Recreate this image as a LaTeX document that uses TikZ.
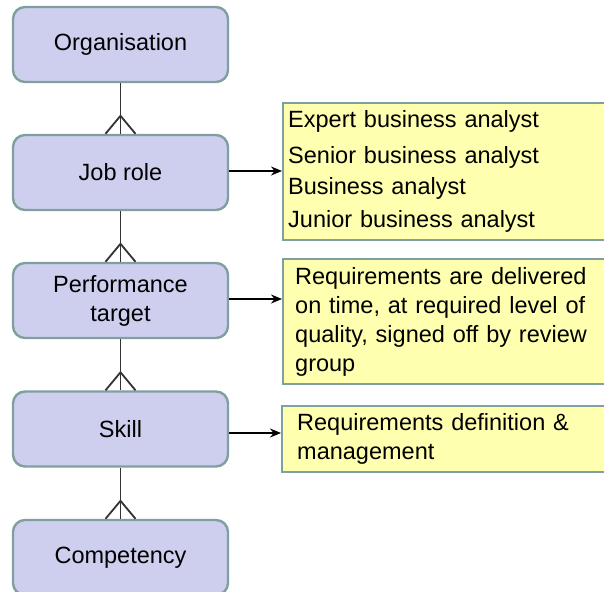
\documentclass[tikz,border=0pt]{standalone}
\usepackage{fontspec}
\setmainfont{Liberation Sans}
\usetikzlibrary{calc,arrows.meta}
\definecolor{lav}{RGB}{206,206,238}
\definecolor{edge}{RGB}{128,160,160}
\definecolor{yel}{RGB}{255,255,176}
\definecolor{conn}{RGB}{51,51,51}
\tikzset{
  entity/.style={draw=edge, fill=lav, line width=2.4pt, rounded corners=12pt,
    minimum width=215pt, minimum height=75pt, align=center, inner sep=0pt,
    font=\fontsize{23.5pt}{29pt}\selectfont},
  note/.style={draw=edge, fill=yel, line width=2.4pt, anchor=north west,
    align=left, inner ysep=0pt,
    font=\fontsize{23.5pt}{29pt}\selectfont},
  link/.style={draw=conn, line width=1.8pt},
  pointer/.style={draw=black, line width=2pt, -{Stealth[length=11pt,width=9pt]}}
}
\begin{document}
\begin{tikzpicture}[x=1pt,y=-1pt]
\useasboundingbox (0,0) rectangle (604,591);
\clip (0,0) rectangle (604,591);
\fill[white] (0,0) rectangle (604,591);

\node[entity] (org)  at (120.5,44.5) {Organisation};
\node[entity] (job)  at (120.5,172.5) {Job role};
\node[entity] (perf) at (120.5,300.5) {Performance\\target};
\node[entity] (skill) at (120.5,429) {Skill};
\node[entity] (comp) at (120.5,557.5) {Competency};

\node[note, minimum height=137pt, inner xsep=5pt, text width=320pt] (jy) at (282,102)
  {Expert business analyst\\[7pt]Senior business analyst\\[2pt]Business analyst\\[4pt]Junior business analyst};
\node[note, minimum height=125pt, inner xsep=12pt, text width=306pt] (py) at (282,258)
  {Requirements are delivered\\on time, at required level of\\quality, signed off by review\\group};
\node[note, minimum height=66pt, inner xsep=15pt, text width=300pt] (sy) at (281,405)
  {Requirements definition \&\\management};

\foreach \a/\b in {org/job, job/perf, perf/skill, skill/comp}{
  \draw[link] (\a.south) -- (\b.north);
  \draw[link] ($(\b.north)+(-15,0)$) -- ($(\b.north)+(0,-18)$) -- ($(\b.north)+(15,0)$);
}

\coordinate (ja) at ($(job.east)+(0,-1.5)$);
\coordinate (pa) at ($(perf.east)+(0,-1.5)$);
\coordinate (sa) at ($(skill.east)+(0,4)$);
\draw[pointer] (ja) -- (ja -| jy.west);
\draw[pointer] (pa) -- (pa -| py.west);
\draw[pointer] (sa) -- (sa -| sy.west);
\end{tikzpicture}
\end{document}
